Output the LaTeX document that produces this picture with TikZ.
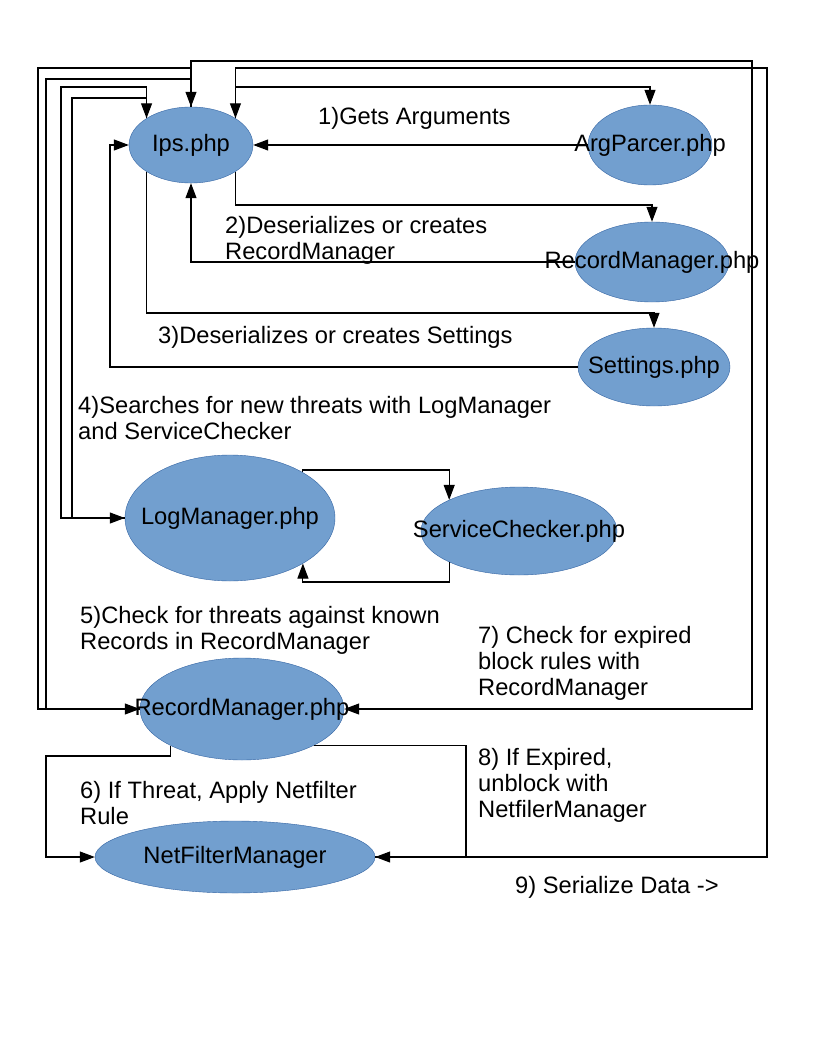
\documentclass[tikz,border=0pt]{standalone}
\usepackage{fontspec}
\setmainfont{Liberation Sans}
\usetikzlibrary{arrows.meta,shapes.geometric}
\definecolor{procfill}{HTML}{729FCF}
\definecolor{procline}{HTML}{3465A4}

\begin{document}
\begin{tikzpicture}[
  x=1pt, y=-1pt,
  font=\fontsize{23.7}{26}\selectfont,
  >={Triangle[length=15pt,width=11pt]},
  proc/.style={ellipse, draw=procline, fill=procfill, inner sep=0pt},
  note/.style={anchor=base west, align=left, inner sep=0pt},
  arr/.style={->, line width=1.1pt}
]
\useasboundingbox[fill=white] (0,0) rectangle (816,1056);

\node[proc, minimum width=124pt, minimum height=76pt] (Ips) at (191,145) {\makebox[0pt]{Ips.php}};
\node[proc, minimum width=124pt, minimum height=80pt] (Arg) at (650,145) {\makebox[0pt]{ArgParcer.php}};
\node[proc, minimum width=154pt, minimum height=80pt] (RMa) at (652,262) {\makebox[0pt]{RecordManager.php}};
\node[proc, minimum width=152pt, minimum height=78pt] (Set) at (654,367) {\makebox[0pt]{Settings.php}};
\node[proc, minimum width=210pt, minimum height=126pt] (Log) at (230,518) {\makebox[0pt]{LogManager.php}};
\node[proc, minimum width=196pt, minimum height=88pt] (Svc) at (519,531) {\makebox[0pt]{ServiceChecker.php}};
\node[proc, minimum width=204pt, minimum height=102pt] (RMb) at (242,709) {\makebox[0pt]{RecordManager.php}};
\node[proc, minimum width=280pt, minimum height=72pt] (Net) at (235,857) {\makebox[0pt]{NetFilterManager}};

\draw[arr] (Ips.north) |- (752,61) |- (RMb.east);
\draw[arr] (Ips.north) |- (38,68) |- (RMb.west);
\draw[arr] (RMb.west) -| (46,79) -| (Ips.north);
\draw[arr] (Net.east) -| (767,68) -| (Ips.31);
\draw[arr] (Ips.31) |- (Arg.north |- 0,87) -- (Arg.north);
\draw[arr] (Arg.west) -- (Ips.east);
\draw[arr] (Ips.-31) |- (RMa.north |- 0,205) -- (RMa.north);
\draw[arr] (RMa.west) -| (Ips.south);
\draw[arr] (Ips.-149) |- (Set.north |- 0,313) -- (Set.north);
\draw[arr] (Set.west) -| (110,145) -- (Ips.west);
\draw[arr] (Ips.149) |- (72,98) |- (Log.west);
\draw[arr] (Log.west) -| (61,87) -| (Ips.149);
\draw[arr] (Log.32) |- (Svc.156 |- 0,470) -- (Svc.156);
\draw[arr] (Svc.-156) |- (Log.-32 |- 0,582) -- (Log.-32);
\draw[arr] (RMb.-153) |- (46,756) |- (Net.west);
\draw[arr] (RMb.-27) -| (466,857) -- (Net.east);

\node[note] (l1) at (318,125) {1)Gets Arguments};
\node[note] (l2) at (225,260) {2)Deserializes or creates\\RecordManager};
\node[note] (l3) at (158,343) {3)Deserializes or creates Settings};
\node[note] (l4) at (78,439) {4)Searches for new threats with LogManager\\and ServiceChecker};
\node[note] (l5) at (80,649) {5)Check for threats against known\\Records in RecordManager};
\node[note] (l6) at (80,824) {6) If Threat, Apply Netfilter\\Rule};
\node[note] (l7) at (478,695) {7) Check for expired\\block rules with\\RecordManager};
\node[note] (l8) at (478,817) {8) If Expired,\\unblock with\\NetfilerManager};
\node[note] (l9) at (515,893) {9) Serialize Data ->};
\end{tikzpicture}
\end{document}
